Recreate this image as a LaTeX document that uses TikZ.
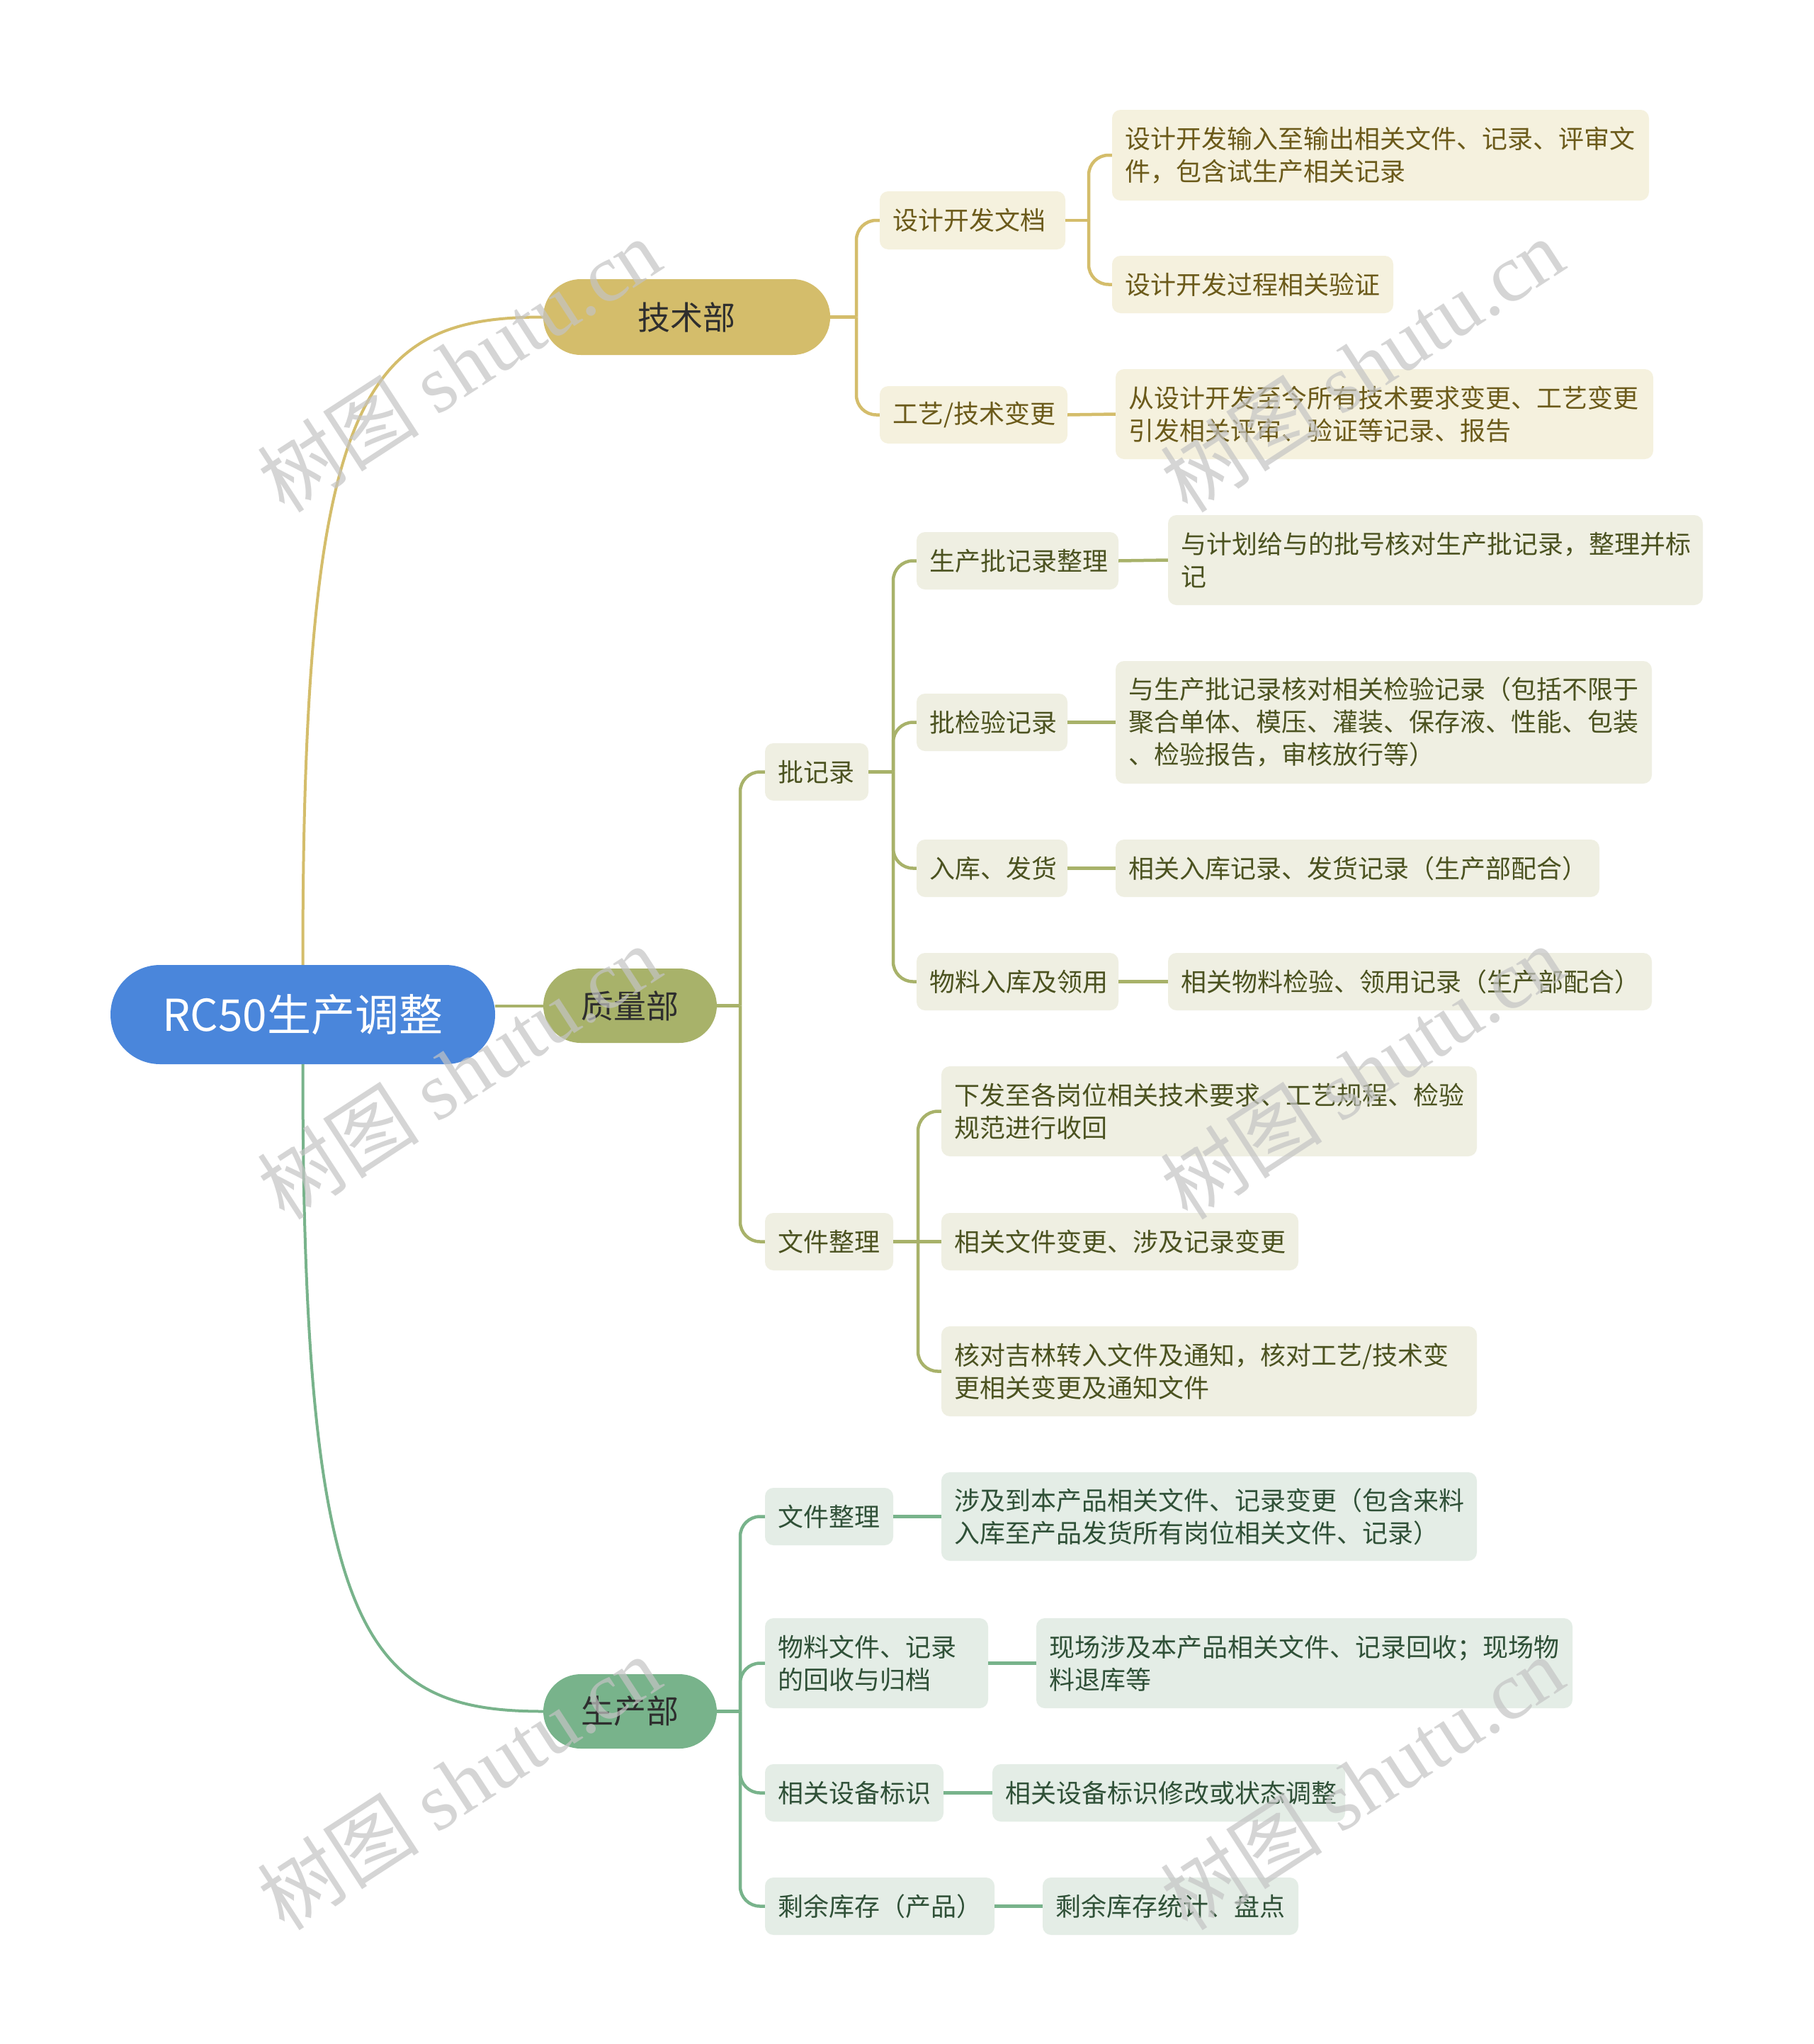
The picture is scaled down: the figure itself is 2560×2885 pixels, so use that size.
\documentclass[tikz,border=0pt]{standalone}
\usepackage{fontspec}
\setmainfont{Noto Sans CJK SC}
\newfontfamily\wmserif{Liberation Serif}
\definecolor{rootblue}{HTML}{4A86DB}
\definecolor{gold}{HTML}{D4BD6B}
\definecolor{goldleaf}{HTML}{F5F1DE}
\definecolor{goldtext}{HTML}{6B5A1A}
\definecolor{olive}{HTML}{A8B26A}
\definecolor{oliveleaf}{HTML}{EFEFE2}
\definecolor{olivetext}{HTML}{4B5220}
\definecolor{green}{HTML}{78B38B}
\definecolor{greenleaf}{HTML}{E4EDE6}
\definecolor{greentext}{HTML}{2F5037}
\definecolor{pilltext}{HTML}{2E2E2E}
\definecolor{wmgray}{HTML}{C4C4C4}
\newcommand{\boxnode}[7]{%
  \pgfmathsetmacro{\bxW}{#5-#3}%
  \pgfmathsetmacro{\bxH}{#6-#4}%
  \pgfmathsetmacro{\bxT}{#5-#3-36}%
  \pgfmathsetmacro{\bxX}{(#3+#5)/2}%
  \pgfmathsetmacro{\bxY}{(#4+#6)/2}%
  \node[#1, minimum width=\bxW pt, minimum height=\bxH pt, text width=\bxT pt] (#2) at (\bxX,\bxY) {#7};}
\begin{document}
\begin{tikzpicture}[x=1pt,y=-1pt,
  rootnode/.style={fill=rootblue, rounded corners=70pt, text=white, align=center, inner xsep=18pt, inner ysep=0pt, font=\fontsize{62}{74}\selectfont},
  pill/.style={rounded corners=53pt, text=pilltext, align=center, inner xsep=18pt, inner ysep=0pt, font=\fontsize{46}{56}\selectfont},
  pgold/.style={pill, fill=gold},
  polive/.style={pill, fill=olive},
  pgreen/.style={pill, fill=green},
  leaf/.style={rounded corners=12pt, inner xsep=18pt, inner ysep=0pt, align=left, font=\fontsize{36}{46}\selectfont},
  lfgold/.style={leaf, fill=goldleaf, text=goldtext},
  lfolive/.style={leaf, fill=oliveleaf, text=olivetext},
  lfgreen/.style={leaf, fill=greenleaf, text=greentext},
  cgold/.style={draw=gold, line width=4.5pt},
  colive/.style={draw=olive, line width=4.5pt},
  cgreen/.style={draw=green, line width=4.5pt},
  rbend/.style={rounded corners=28pt},
  wm/.style={text=wmgray, text opacity=0.7, font=\fontsize{115}{115}\selectfont, rotate=33, inner sep=0pt}
]
\fill[white] (0,0) rectangle (2560,2885);
\useasboundingbox (0,0) rectangle (2560,2885);

% root and main branches
\boxnode{rootnode}{root}{156}{1362}{699}{1502}{RC50生产调整}
\boxnode{pgold}{tech}{767}{394}{1172}{501}{技术部}
\boxnode{polive}{qual}{767}{1367}{1012}{1472}{质量部}
\boxnode{pgreen}{prod}{767}{2363}{1012}{2468}{生产部}

% tech branch
\boxnode{lfgold}{t1}{1242}{270}{1504}{352}{设计开发文档}
\boxnode{lfgold}{t2}{1242}{545}{1507}{626}{工艺/技术变更}
\boxnode{lfgold}{t11}{1570}{155}{2328}{283}{设计开发输入至输出相关文件、记录、评审文\\件，包含试生产相关记录}
\boxnode{lfgold}{t12}{1570}{361}{1967}{442}{设计开发过程相关验证}
\boxnode{lfgold}{t21}{1575}{521}{2334}{648}{从设计开发至今所有技术要求变更、工艺变更\\引发相关评审、验证等记录、报告}

% quality branch
\boxnode{lfolive}{q1}{1080}{1049}{1226}{1130}{批记录}
\boxnode{lfolive}{q2}{1080}{1712}{1261}{1793}{文件整理}
\boxnode{lfolive}{q11}{1294}{751}{1579}{832}{生产批记录整理}
\boxnode{lfolive}{q12}{1294}{979}{1507}{1060}{批检验记录}
\boxnode{lfolive}{q13}{1294}{1185}{1507}{1266}{入库、发货}
\boxnode{lfolive}{q14}{1294}{1345}{1579}{1426}{物料入库及领用}
\boxnode{lfolive}{q111}{1649}{727}{2404}{854}{与计划给与的批号核对生产批记录，整理并标\\记}
\boxnode{lfolive}{q121}{1575}{933}{2332}{1106}{与生产批记录核对相关检验记录（包括不限于\\聚合单体、模压、灌装、保存液、性能、包装\\、检验报告，审核放行等）}
\boxnode{lfolive}{q131}{1575}{1185}{2258}{1266}{相关入库记录、发货记录（生产部配合）}
\boxnode{lfolive}{q141}{1649}{1345}{2332}{1426}{相关物料检验、领用记录（生产部配合）}
\boxnode{lfolive}{q21}{1329}{1505}{2085}{1632}{下发至各岗位相关技术要求、工艺规程、检验\\规范进行收回}
\boxnode{lfolive}{q22}{1329}{1712}{1833}{1793}{相关文件变更、涉及记录变更}
\boxnode{lfolive}{q23}{1329}{1872}{2085}{1999}{核对吉林转入文件及通知，核对工艺/技术变\\更相关变更及通知文件}

% production branch
\boxnode{lfgreen}{p1}{1080}{2100}{1261}{2181}{文件整理}
\boxnode{lfgreen}{p2}{1080}{2284}{1395}{2411}{物料文件、记录\\的回收与归档}
\boxnode{lfgreen}{p3}{1080}{2490}{1332}{2571}{相关设备标识}
\boxnode{lfgreen}{p4}{1080}{2650}{1404}{2731}{剩余库存（产品）}
\boxnode{lfgreen}{p11}{1329}{2078}{2085}{2203}{涉及到本产品相关文件、记录变更（包含来料\\入库至产品发货所有岗位相关文件、记录）}
\boxnode{lfgreen}{p21}{1463}{2284}{2220}{2411}{现场涉及本产品相关文件、记录回收；现场物\\料退库等}
\boxnode{lfgreen}{p31}{1401}{2490}{1899}{2571}{相关设备标识修改或状态调整}
\boxnode{lfgreen}{p41}{1472}{2650}{1833}{2731}{剩余库存统计、盘点}

% root connectors
\draw[draw=gold, line width=4pt] (root.north) .. controls (427,552) and (515,447.5) .. (tech.west);
\draw[draw=olive, line width=4pt] (qual.west -| root.east) -- (qual.west);
\draw[draw=green, line width=4pt] (root.south) .. controls (427,2310) and (515,2415.5) .. (prod.west);

% bend points
\coordinate (tb) at (1209,447.5);
\coordinate (t1b) at (1537,311);
\coordinate (qb) at (1045,1419.5);
\coordinate (q1b) at (1261,1089.5);
\coordinate (q2b) at (1296,1752.5);
\coordinate (pb) at (1045,2415.5);

% tech connectors
\draw[cgold] (tech.east) -- (tb);
\draw[cgold, rbend] (tb) |- (t1.west);
\draw[cgold, rbend] (tb) |- (t2.west);
\draw[cgold] (t1.east) -- (t1b);
\draw[cgold, rbend] (t1b) |- (t11.west);
\draw[cgold, rbend] (t1b) |- (t12.west);
\draw[cgold] (t2.east) -- (t21.west);

% quality connectors
\draw[colive] (qual.east) -- (qb);
\draw[colive, rbend] (qb) |- (q1.west);
\draw[colive, rbend] (qb) |- (q2.west);
\draw[colive] (q1.east) -- (q1b);
\draw[colive, rbend] (q1b) |- (q11.west);
\draw[colive, rbend] (q1b) |- (q12.west);
\draw[colive, rbend] (q1b) |- (q13.west);
\draw[colive, rbend] (q1b) |- (q14.west);
\draw[colive] (q11.east) -- (q111.west);
\draw[colive] (q12.east) -- (q121.west);
\draw[colive] (q13.east) -- (q131.west);
\draw[colive] (q14.east) -- (q141.west);
\draw[colive] (q2.east) -- (q22.west);
\draw[colive, rbend] (q2b) |- (q21.west);
\draw[colive, rbend] (q2b) |- (q23.west);

% production connectors
\draw[cgreen] (prod.east) -- (pb);
\draw[cgreen, rbend] (pb) |- (p1.west);
\draw[cgreen, rbend] (pb) |- (p2.west);
\draw[cgreen, rbend] (pb) |- (p3.west);
\draw[cgreen, rbend] (pb) |- (p4.west);
\draw[cgreen] (p1.east) -- (p11.west);
\draw[cgreen] (p2.east) -- (p21.west);
\draw[cgreen] (p3.east) -- (p31.west);
\draw[cgreen] (p4.east) -- (p41.west);

% watermarks
\node[wm] (w1) at (648,515) {树图 {\wmserif shutu.cn}};
\node[wm] (w2) at (1923,515) {树图 {\wmserif shutu.cn}};
\node[wm] (w3) at (648,1513) {树图 {\wmserif shutu.cn}};
\node[wm] (w4) at (1923,1513) {树图 {\wmserif shutu.cn}};
\node[wm] (w5) at (648,2516) {树图 {\wmserif shutu.cn}};
\node[wm] (w6) at (1923,2516) {树图 {\wmserif shutu.cn}};
\end{tikzpicture}
\end{document}
